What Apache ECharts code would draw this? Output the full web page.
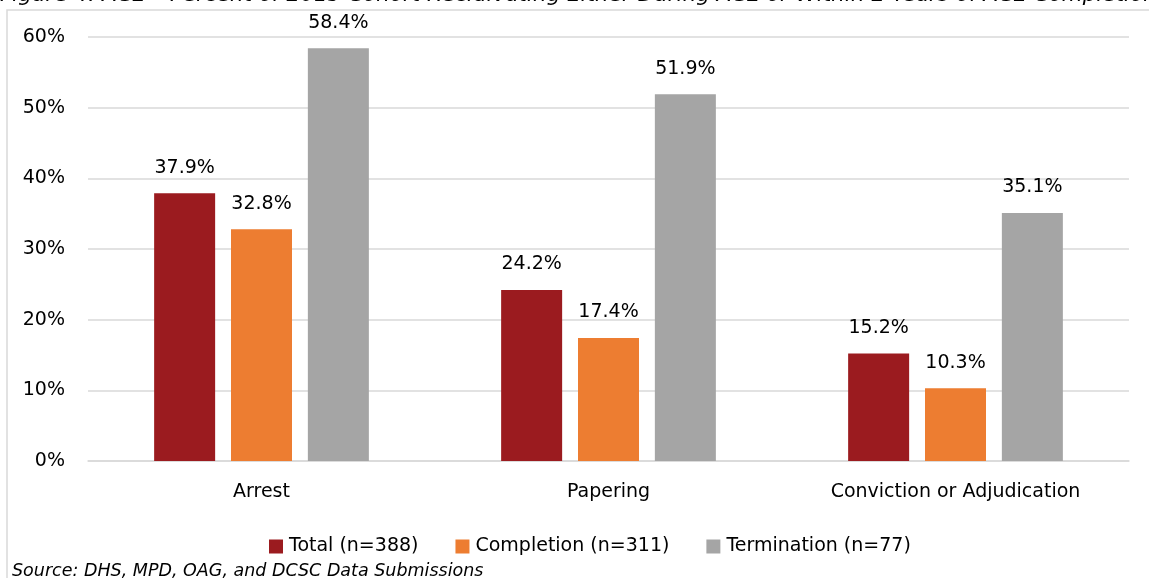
<!DOCTYPE html>
<html>
<head>
<meta charset="utf-8">
<script src="https://cdn.jsdelivr.net/npm/echarts@6/dist/echarts.min.js"></script>
<style>html,body{margin:0;padding:0;background:#fff}#c{width:1149px;height:578px}</style>
</head>
<body>
<div id="c"></div>
<script>
const categories = ['Arrest', 'Papering', 'Conviction or Adjudication'];
const seriesNames = ['Total (n=388)', 'Completion (n=311)', 'Termination (n=77)'];
const totalValues = [37.9, 24.2, 15.2];
const completionValues = [32.8, 17.4, 10.3];
const terminationValues = [58.4, 51.9, 35.1];
const yTicks = [0, 10, 20, 30, 40, 50, 60];
const titleText = 'Figure 4: ACE \u2013 Percent of 2015 Cohort Recidivating Either During ACE or Within 2 Years of ACE Completion';
const sourceText = 'Source: DHS, MPD, OAG, and DCSC Data Submissions';

const FONT = 'DejaVu Sans';
const FS = 19;
const colors = ['#9B1B1F', '#ED7D31', '#A5A5A5'];
const chart = echarts.init(document.getElementById('c'));
function mk(name, data, color) {
  return {
    name, type: 'bar', data, barWidth: 61, barGap: '26%',
    itemStyle: { color },
    label: { show: true, position: 'top', distance: 16, color: '#000', fontFamily: FONT, fontSize: FS,
      formatter: p => p.value.toFixed(1) + '%' }
  };
}
chart.setOption({
  animation: false,
  color: colors,
  textStyle: { fontFamily: FONT },
  grid: { left: 88, right: 20, top: 37, bottom: 117 },
  legend: {
    top: 532, left: 264, itemWidth: 14, itemHeight: 14, itemGap: 37, icon: 'rect',
    textStyle: { fontFamily: FONT, fontSize: FS, color: '#000', padding: [0, 0, 0, 1] },
    data: seriesNames
  },
  xAxis: {
    type: 'category', data: categories,
    axisLine: { lineStyle: { color: '#d9d9d9', width: 1.5 } },
    axisTick: { show: false },
    axisLabel: { color: '#000', fontFamily: FONT, fontSize: FS, margin: 22 }
  },
  yAxis: {
    type: 'value', min: yTicks[0], max: yTicks[yTicks.length - 1], interval: 10,
    axisLine: { show: false }, axisTick: { show: false },
    splitLine: { lineStyle: { color: '#d9d9d9', width: 1.5 } },
    axisLabel: { color: '#000', fontFamily: FONT, fontSize: FS, margin: 23, formatter: v => v + '%' }
  },
  graphic: [
    { type: 'rect', shape: { x: 7, y: 10, width: 1200, height: 700 }, style: { fill: 'none', stroke: '#d9d9d9', lineWidth: 1.5 }, silent: true, z: -1 },
    { type: 'text', x: 0, y: -16, style: { text: titleText, font: 'italic 21.5px ' + FONT, fill: '#000' } },
    { type: 'text', x: 12, y: 562, style: { text: sourceText, font: 'italic 17.5px ' + FONT, fill: '#000' } }
  ],
  series: [
    mk(seriesNames[0], totalValues, colors[0]),
    mk(seriesNames[1], completionValues, colors[1]),
    mk(seriesNames[2], terminationValues, colors[2])
  ]
});
</script>
</body>
</html>
